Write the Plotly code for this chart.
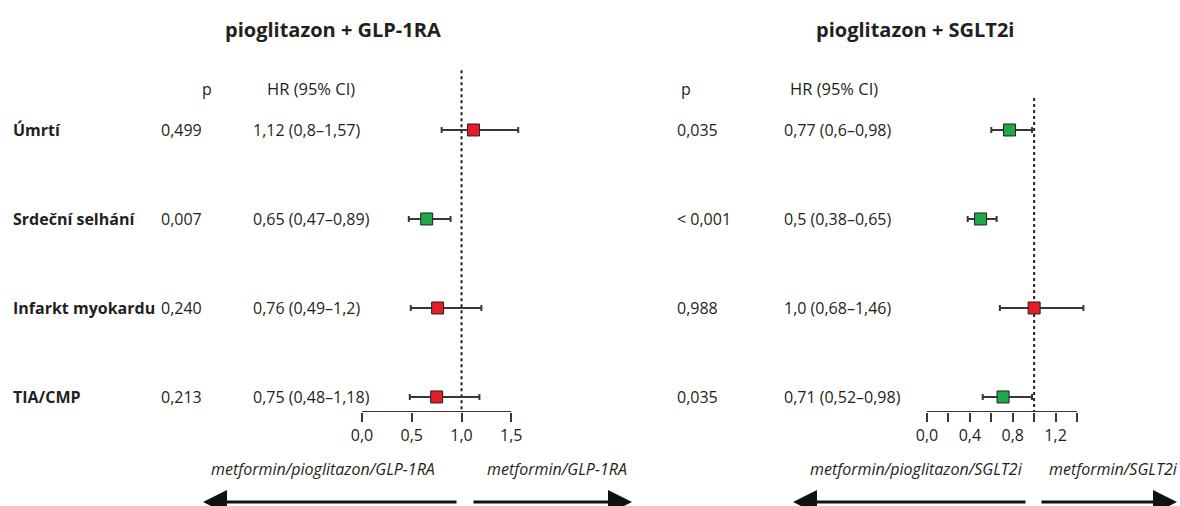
import plotly.graph_objects as go

# ---------------- data ----------------
categories = ["Úmrtí", "Srdeční selhání", "Infarkt myokardu", "TIA/CMP"]

glp_p = ["0,499", "0,007", "0,240", "0,213"]
glp_hr = [1.12, 0.65, 0.76, 0.75]
glp_lo = [0.8, 0.47, 0.49, 0.48]
glp_hi = [1.57, 0.89, 1.2, 1.18]
glp_sig = [False, True, False, False]

sglt_p = ["0,035", "< 0,001", "0,988", "0,035"]
sglt_hr = [0.77, 0.5, 1.0, 0.71]
sglt_lo = [0.6, 0.38, 0.68, 0.52]
sglt_hi = [0.98, 0.65, 1.46, 0.98]
sglt_sig = [True, True, False, True]

glp_ticks = [0.0, 0.5, 1.0, 1.5]
glp_ticktext = ["0,0", "0,5", "1,0", "1,5"]
sglt_ticks = [0.0, 0.2, 0.4, 0.6, 0.8, 1.0, 1.2, 1.4]
sglt_ticktext = ["0,0", "", "0,4", "", "0,8", "", "1,2", ""]

titles = ["pioglitazon + GLP-1RA", "pioglitazon + SGLT2i"]
left_labels = ["metformin/pioglitazon/GLP-1RA", "metformin/pioglitazon/SGLT2i"]
right_labels = ["metformin/GLP-1RA", "metformin/SGLT2i"]

# ---------------- styling ----------------
W, H = 1180, 506
FONT = "Open Sans"
DARK = "#231f20"
LINE = "#3a3536"
RED = "#e31e27"
GREEN = "#1fa84a"

rows = list(range(len(categories)))


def px(x):
    return x / W


def py(y):
    return 1 - y / H


def fmt(v):
    return str(v).replace(".", ",")


fig = go.Figure()

panels = [
    dict(xa="x", ya="y", hr=glp_hr, lo=glp_lo, hi=glp_hi, sig=glp_sig, p=glp_p,
         rng=[-0.3, 1.8], dom=[332.2, 541.1], ticks=glp_ticks, ticktext=glp_ticktext,
         axis_end=1.5, dash_top=-0.67),
    dict(xa="x2", ya="y2", hr=sglt_hr, lo=sglt_lo, hi=sglt_hi, sig=sglt_sig, p=sglt_p,
         rng=[-0.2, 1.6], dom=[905.6, 1098.4], ticks=sglt_ticks, ticktext=sglt_ticktext,
         axis_end=1.4, dash_top=-0.36),
]

for pn in panels:
    colors = [GREEN if s else RED for s in pn["sig"]]
    fig.add_trace(go.Scatter(
        x=pn["hr"], y=rows, xaxis=pn["xa"], yaxis=pn["ya"], mode="markers",
        marker=dict(symbol="square", size=12, color=colors, line=dict(color=DARK, width=1)),
        error_x=dict(type="data", symmetric=False,
                     array=[h - m for h, m in zip(pn["hi"], pn["hr"])],
                     arrayminus=[m - l for m, l in zip(pn["hr"], pn["lo"])],
                     color=LINE, thickness=2, width=3),
        showlegend=False, hoverinfo="skip", cliponaxis=False,
    ))
    # reference line at HR = 1
    fig.add_shape(type="line", xref=pn["xa"], yref=pn["ya"], x0=1, x1=1,
                  y0=pn["dash_top"], y1=3.169, line=dict(color=DARK, width=2, dash="dot"),
                  layer="below")
    # axis base line from 0 to end
    fig.add_shape(type="line", xref=pn["xa"], yref=pn["ya"], x0=0, x1=pn["axis_end"],
                  y0=3.169, y1=3.169, line=dict(color=LINE, width=2))

yaxis_common = dict(range=[3.169, -0.674], domain=[py(412), py(70)], visible=False,
                    fixedrange=True)
xaxis_common = dict(showgrid=False, zeroline=False, showline=False, ticks="outside",
                    ticklen=9, tickwidth=2, tickcolor=LINE,
                    tickfont=dict(family=FONT, size=16, color=DARK), fixedrange=True)

fig.update_layout(
    width=W, height=H, margin=dict(l=0, r=0, t=0, b=0),
    paper_bgcolor="white", plot_bgcolor="rgba(0,0,0,0)",
    xaxis=dict(range=panels[0]["rng"], domain=[px(panels[0]["dom"][0]), px(panels[0]["dom"][1])],
               anchor="y", tickvals=panels[0]["ticks"], ticktext=panels[0]["ticktext"],
               **xaxis_common),
    xaxis2=dict(range=panels[1]["rng"], domain=[px(panels[1]["dom"][0]), px(panels[1]["dom"][1])],
                anchor="y2", tickvals=panels[1]["ticks"], ticktext=panels[1]["ticktext"],
                **xaxis_common),
    yaxis=dict(anchor="x", **yaxis_common),
    yaxis2=dict(anchor="x2", **yaxis_common),
)

ann = []


def text(x, y, s, size=16, bold=False, italic=False, xanchor="left", yref="paper"):
    ann.append(dict(x=x, y=y, xref="paper", yref=yref, text=s, showarrow=False,
                    xanchor=xanchor, yanchor="middle",
                    font=dict(family=FONT, size=size, color=DARK,
                              weight="bold" if bold else "normal",
                              style="italic" if italic else "normal")))


# titles
text(px(333), py(29), titles[0], size=20, bold=True, xanchor="center")
text(px(915), py(29), titles[1], size=20, bold=True, xanchor="center")
# headers
text(px(207), py(89), "p", size=16, xanchor="center")
text(px(311), py(89), "HR (95% CI)", size=16.5, xanchor="center")
text(px(686), py(89), "p", size=16, xanchor="center")
text(px(834), py(89), "HR (95% CI)", size=16.5, xanchor="center")

for i, cat in enumerate(categories):
    text(px(11), i, cat, size=16, bold=True, yref="y")
    text(px(159), i, glp_p[i], yref="y")
    text(px(251), i, f"{fmt(glp_hr[i])} ({fmt(glp_lo[i])}–{fmt(glp_hi[i])})", yref="y")
    text(px(675), i, sglt_p[i], yref="y2")
    text(px(782), i, f"{fmt(sglt_hr[i])} ({fmt(sglt_lo[i])}–{fmt(sglt_hi[i])})", yref="y2")

# direction labels
text(px(323), py(469), left_labels[0], size=16, italic=True, xanchor="center")
text(px(557), py(469), right_labels[0], size=16, italic=True, xanchor="center")
text(px(916), py(469), left_labels[1], size=16, italic=True, xanchor="center")
text(px(1113), py(469), right_labels[1], size=16, italic=True, xanchor="center")


def arrow(tip, tail, y):
    ann.append(dict(x=px(tip), y=py(y), xref="paper", yref="paper",
                    ax=tail - tip, ay=0, axref="pixel", ayref="pixel",
                    showarrow=True, arrowhead=2, arrowsize=1.6, arrowwidth=3,
                    arrowcolor="#111111", text=""))


arrow(203, 458, 502)
arrow(632, 472, 502)
arrow(793, 1027, 502)
arrow(1177, 1040, 502)

fig.update_layout(annotations=ann)

fig.write_html("out.html", config={"displayModeBar": False},
               post_script="document.body.style.margin='0';")
